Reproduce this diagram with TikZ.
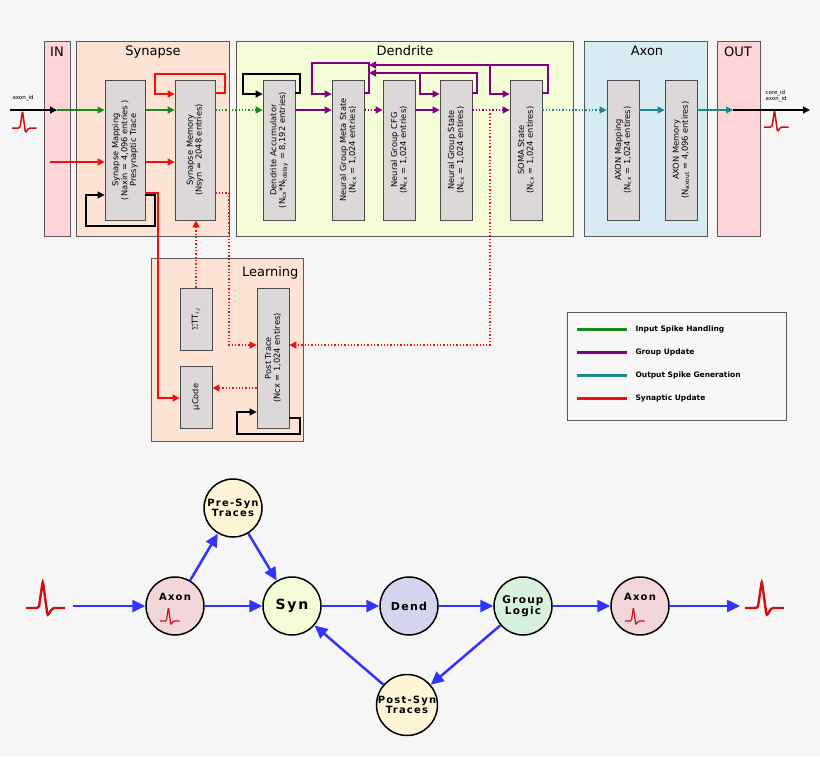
\documentclass[tikz,border=0pt]{standalone}
\usepackage{fontspec}
\setmainfont{DejaVu Sans}
\newfontfamily\spaced[LetterSpace=12]{DejaVu Sans}
\usetikzlibrary{arrows.meta}
\definecolor{bg}{HTML}{F6F6F6}
\definecolor{inpink}{HTML}{FDD5D8}
\definecolor{peach}{HTML}{FDE3D3}
\definecolor{dendc}{HTML}{F3FCD6}
\definecolor{axonc}{HTML}{D6ECF2}
\definecolor{grayb}{HTML}{DCD8D8}
\definecolor{gr}{HTML}{1A8A1A}
\definecolor{pu}{HTML}{800080}
\definecolor{te}{HTML}{1A8A8A}
\definecolor{rd}{HTML}{F01010}
\definecolor{sp}{HTML}{D01010}
\definecolor{bl}{HTML}{3333FF}
\definecolor{cpink}{HTML}{F2D6D9}
\definecolor{cream}{HTML}{FDF5D5}
\definecolor{cgreen}{HTML}{F3FCD6}
\definecolor{cblue}{HTML}{D5D5F0}
\definecolor{cgl}{HTML}{D8F1DC}
\tikzset{
 sect/.style={draw=black!65,line width=0.8pt},
 unit/.style={draw=black!70,fill=grayb,line width=0.8pt,minimum width=32pt,minimum height=140pt,inner sep=0pt},
 utext/.style={rotate=90,align=center,font=\fontsize{8.3}{8.8}\selectfont},
 title/.style={font=\fontsize{13}{13}\selectfont},
 ar/.style={-{Triangle[length=7pt,width=7pt]},line width=1.3pt},
 dot/.style={dotted,line width=1.4pt},
 cn/.style={circle,draw=black,line width=1.5pt,minimum size=58pt,inner sep=0pt,align=center,font=\fontsize{10}{9}\spaced\bfseries},
 ba/.style={bl,line width=2.5pt,-{Triangle[length=13pt,width=12pt]}},
}
\newcommand{\myspike}[3]{% x y scale
 \draw[sp,line width=#3*1.5pt,rounded corners=#3*1.5pt] (#1,#2) -- ++(#3*8,0) -- ++(#3*2.5,-#3*17) -- ++(#3*3,#3*22) -- ++(#3*3,-#3*5) -- ++(#3*8,0);}
\begin{document}
\begin{tikzpicture}[x=1pt,y=-1pt]
\fill[bg] (0,0) rectangle (820,756);
\useasboundingbox (0,0) rectangle (820,756);
% sections
\draw[sect,fill=inpink] (44,41) rectangle (70,236);
\node[title,anchor=north] at (57,43) {IN};
\draw[sect,fill=peach] (76,41) rectangle (229,236);
\node[title,anchor=north] at (153,42) {Synapse};
\draw[sect,fill=dendc] (236,41) rectangle (573,236);
\node[title,anchor=north] at (405,42) {Dendrite};
\draw[sect,fill=axonc] (584,41) rectangle (707,236);
\node[title,anchor=north] at (647,42) {Axon};
\draw[sect,fill=inpink] (717,41) rectangle (760,236);
\node[title,anchor=north] at (738,43) {OUT};
\draw[sect,fill=peach] (151,258) rectangle (303,441);
\node[title,anchor=north east] at (302,263) {Learning};
% units
\node[unit,minimum width=40pt] (smap) at (125,150) {}; \node[utext] at (smap) {Synapse Mapping\\(Naxin = 4,096 entries )\\Presynaptic Trace};
\node[unit,minimum width=40pt] (smem) at (195,150) {}; \node[utext] at (smem) {Synapse Memory\\(Nsyn = 2048 entries)};
\node[unit] (dacc) at (279,150) {}; \node[utext] at (dacc) {Dendrite Accumulator\\(N$_{\mathrm{cx}}$*N$_{\mathrm{tdelay}}$ = 8,192 entries)};
\node[unit] (meta) at (348,150) {}; \node[utext] at (meta) {Neural Group Meta State\\(N$_{\mathrm{cx}}$ = 1,024 entries)};
\node[unit] (cfg) at (399,150) {}; \node[utext] at (cfg) {Neural Group CFG\\(N$_{\mathrm{cx}}$ = 1,024 entries)};
\node[unit] (ngs) at (456,150) {}; \node[utext] at (ngs) {Neural Group State\\(N$_{\mathrm{cx}}$ = 1,024 entires)};
\node[unit] (soma) at (526,150) {}; \node[utext] at (soma) {SOMA State\\(N$_{\mathrm{cx}}$ = 1,024 entires)};
\node[unit] (amap) at (623,150) {}; \node[utext] at (amap) {AXON Mapping\\(N$_{\mathrm{cx}}$ = 1,024 entires)};
\node[unit] (amem) at (681,150) {}; \node[utext] at (amem) {AXON Memory\\(N$_{\mathrm{axout}}$ = 4,096 entires)};
\node[unit,minimum height=62pt] (stt) at (196,319) {}; \node[utext] at (stt) {$\Sigma$TT$_{ij}$};
\node[unit,minimum height=62pt] (ucode) at (196,397) {}; \node[utext] at (ucode) {µCode};
\node[unit] (post) at (273,358) {}; \node[utext] at (post) {Post Trace\\(Ncx = 1,024 entires)};
% main input
\coordinate (inL) at (10,110); \coordinate (inR) at (57,110);
\draw[ar] (inL) -- (inR);
\node[font=\fontsize{5.5}{5.5}\selectfont,anchor=south west] at (9,104) {axon\_id};
\myspike{12}{128}{1}
\draw[ar,gr] (inR) -- (smap.west|-inR);
\draw[ar,gr] (smap.east|-inR) -- (smem.west|-inR);
\draw[ar,gr,dot] (smem.east|-inR) -- (dacc.west|-inR);
\draw[ar,pu] (dacc.east|-inR) -- (meta.west|-inR);
\draw[ar,pu,dot] (meta.east|-inR) -- (cfg.west|-inR);
\draw[ar,pu] (cfg.east|-inR) -- (ngs.west|-inR);
\draw[ar,pu,dot] (ngs.east|-inR) -- (soma.west|-inR);
\draw[ar,te,dot] (soma.east|-inR) -- (amap.west|-inR);
\draw[ar,te] (amap.east|-inR) -- (amem.west|-inR);
\coordinate (outL) at (733,110); \coordinate (outR) at (810,110);
\draw[ar,te] (amem.east|-inR) -- (outL);
\draw[ar] (outL) -- (outR);
\node[font=\fontsize{5.5}{6}\selectfont,anchor=south west,align=left] at (762,105) {core\_id\\axon\_id};
\myspike{764}{127}{1}
% red synaptic
\coordinate (rL) at (50,162);
\draw[ar,rd] (rL) -- (smap.west|-rL);
\draw[ar,rd] (smap.east|-rL) -- (smem.west|-rL);
\draw[ar,rd] (smem.east|-93,93) -- (225,93) -- (225,74) -- (155,74) -- (155,94) -- (smem.west|-94,94);
\draw[ar,line width=1.3pt] (smap.east|-195,195) -- (155,195) -- (155,226) -- (86,226) -- (86,195) -- (smap.west|-195,195);
\draw[ar,rd] (smap.east|-193,193) -- (158,193) -- (158,398) -- (ucode.west|-398,398);
% dendrite loops
\draw[ar] (dacc.east|-93,93) -- (300,93) -- (300,74) -- (243,74) -- (243,94) -- (dacc.west|-94,94);
\draw[ar,pu] (meta.east|-93,93) -- (369,93) -- (369,63) -- (312,63) -- (312,94) -- (meta.west|-94,94);
\draw[ar,pu] (ngs.east|-93,93) -- (477,93) -- (477,73) -- (420,73) -- (420,94) -- (ngs.west|-94,94);
\draw[ar,pu] (420,73) -- (369,73);
\draw[ar,pu] (soma.east|-93,93) -- (548,93) -- (548,65) -- (490,65) -- (490,94) -- (soma.west|-94,94);
\draw[ar,pu] (490,65) -- (369,65);
% learning connections
\draw[ar,rd,dot] (smem.east|-193,193) -- (229,193) -- (229,345) -- (post.west|-345,345);
\draw[ar,rd,dot] (490,110) -- (490,345) -- (post.east|-345,345);
\draw[ar,rd,dot] (stt.north) -- (smem.south-|stt.north);
\draw[ar,rd,dot] (post.west|-388,388) -- (ucode.east|-388,388);
\draw[ar,line width=1.3pt] (post.east|-428,418) -- (300,418) -- (300,434) -- (237,434) -- (237,412) -- (post.west|-412,412);
% legend
\draw[draw=black!65,fill=black!3,line width=0.8pt] (567,312) rectangle (786,420);
\foreach \y/\c/\t in {329/gr/Input Spike Handling,352/pu/Group Update,375/te/Output Spike Generation,398/rd/Synaptic Update}{
 \draw[\c,line width=3pt] (577,\y) -- (627,\y);
 \node[anchor=west,font=\fontsize{7.5}{8}\selectfont\bfseries] at (632,\y) {\t};
}
% bottom graph
\node[cn,fill=cpink] (ax1) at (175,606) {};
\node[font=\fontsize{10}{10}\spaced\bfseries] at (175,597) {Axon};
\myspike{160}{621}{0.8}
\node[cn,fill=cream] (pre) at (233,508) {Pre-Syn\\Traces};
\node[cn,fill=cgreen,font=\fontsize{14}{14}\spaced\bfseries] (syn) at (292,606) {Syn};
\node[cn,fill=cblue,font=\fontsize{11}{11}\spaced\bfseries] (dend) at (409,606) {Dend};
\node[cn,fill=cgl,font=\fontsize{10.5}{10}\spaced\bfseries] (grp) at (523,606) {Group\\Logic};
\node[cn,fill=cpink] (ax2) at (640,606) {};
\node[font=\fontsize{10}{10}\spaced\bfseries] at (640,597) {Axon};
\myspike{625}{621}{0.8}
\node[cn,fill=cream] (postn) at (407,705) {Post-Syn\\Traces};
\myspike{26}{608}{1.6}
\myspike{745}{608}{1.6}
\coordinate (bL) at (73,606); \coordinate (bR) at (740,606);
\draw[ba] (bL) -- (ax1);
\draw[ba] (ax1) -- (syn);
\draw[ba] (ax1) -- (pre);
\draw[ba] (pre) -- (syn);
\draw[ba] (syn) -- (dend);
\draw[ba] (dend) -- (grp);
\draw[ba] (grp) -- (ax2);
\draw[ba] (ax2) -- (bR);
\draw[ba] (grp) -- (postn);
\draw[ba] (postn) -- (syn);
\end{tikzpicture}
\end{document}
